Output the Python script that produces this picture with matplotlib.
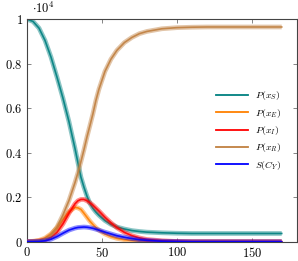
import matplotlib
matplotlib.use("Agg")
import matplotlib.pyplot as plt
from matplotlib.ticker import FuncFormatter
from matplotlib.lines import Line2D

plt.rcParams['mathtext.fontset'] = 'cm'
plt.rcParams['font.family'] = 'DejaVu Serif'

t = [0, 4, 8, 12, 16, 20, 24, 28, 32, 34, 36, 38, 40, 42, 44, 46, 48, 52, 56, 60,
     65, 70, 75, 80, 90, 100, 110, 120, 140, 170]
S = [10000, 9900, 9600, 9050, 8300, 7400, 6450, 5400, 4200, 3550, 2900, 2450, 2050,
     1720, 1500, 1330, 1190, 950, 780, 660, 570, 500, 460, 430, 400, 380, 370, 370,
     370, 370]
E = [0, 20, 60, 160, 350, 620, 1000, 1350, 1540, 1520, 1450, 1280, 1100, 920, 770,
     630, 520, 350, 230, 150, 90, 50, 30, 20, 10, 0, 0, 0, 0, 0]
I = [0, 10, 30, 80, 200, 420, 800, 1280, 1700, 1840, 1900, 1900, 1840, 1750, 1640,
     1510, 1380, 1100, 850, 630, 420, 270, 170, 100, 40, 10, 0, 0, 0, 0]
R = [0, 10, 30, 100, 300, 650, 1200, 1850, 2650, 3100, 3600, 4130, 4700, 5220, 5750,
     6350, 6850, 7650, 8200, 8600, 8950, 9180, 9350, 9450, 9570, 9620, 9640, 9650,
     9650, 9650]
C = [0, 3, 10, 40, 110, 230, 380, 520, 610, 640, 650, 660, 650, 630, 600, 560, 520,
     430, 350, 270, 200, 140, 90, 60, 20, 10, 0, 0, 0, 0]

labels = [r'$P(x_S)$', r'$P(x_E)$', r'$P(x_I)$', r'$P(x_R)$', r'$S(C_Y)$']
colors = ['#008080', '#ff8000', '#ff0000', '#c08040', '#0000ff']

fig = plt.figure(figsize=(2.98, 2.61), dpi=100)
ax = fig.add_axes([27/298, 1-241.7/261, (296.7-27)/298, (241.7-19.2)/261])

series = [S, E, I, R, C]
order = [0, 3, 1, 2, 4]
for k in order:
    y = series[k]
    ax.plot(t, y, color=colors[k], lw=3.4, alpha=0.45, solid_capstyle='butt',
            solid_joinstyle='round', zorder=2+k)
    ax.plot(t, y, color=colors[k], lw=1.2, alpha=0.9, solid_joinstyle='round',
            zorder=2+k)

leg_handles = [Line2D([], [], color=colors[k], lw=1.3) for k in range(5)]
ax.legend(leg_handles, labels, loc='center right', bbox_to_anchor=(0.975, 0.5),
          frameon=False, fontsize=7, handlelength=3.3, labelspacing=0.45,
          handletextpad=0.7)

ax.set_xlim(0, 180)
ax.set_ylim(0, 10000)
ax.set_xticks([0, 50, 100, 150])
ax.set_yticks([0, 2000, 4000, 6000, 8000, 10000])
ax.xaxis.set_major_formatter(FuncFormatter(lambda v, p: r'$%d$' % v))
ax.yaxis.set_major_formatter(FuncFormatter(
    lambda v, p: r'$%s$' % ('0' if v == 0 else ('1' if v == 10000 else '%.1f' % (v/1e4)))))
ax.tick_params(direction='in', length=3, width=0.5, color='#555555', labelsize=9,
               top=True, right=True, pad=3)
for s in ax.spines.values():
    s.set_color('#444444')
    s.set_linewidth(0.8)
ax.text(0.02, 1.015, r'$\cdot10^4$', transform=ax.transAxes, fontsize=9,
        ha='left', va='bottom')

fig.savefig('out.png', dpi=100)
